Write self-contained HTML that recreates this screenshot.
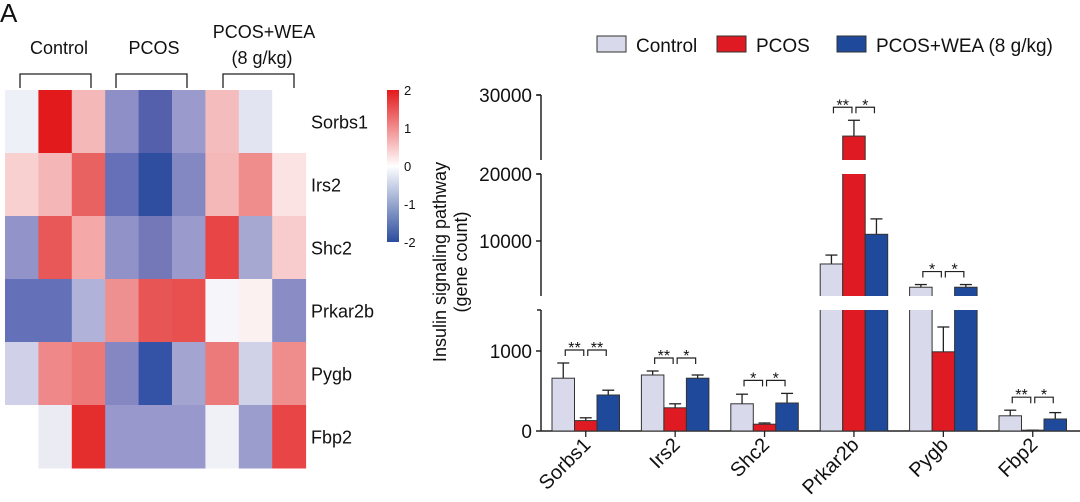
<!DOCTYPE html>
<html><head><meta charset="utf-8">
<style>
body{margin:0;background:#fff;width:1080px;height:502px;overflow:hidden;font-family:"Liberation Sans",Arial,sans-serif}
svg{display:block}
text{font-family:"Liberation Sans",Arial,sans-serif;fill:#111}
</style></head>
<body>
<svg id="fig" width="1080" height="502" viewBox="0 0 1080 502"></svg>
<script>
const genes = ["Sorbs1","Irs2","Shc2","Prkar2b","Pygb","Fbp2"];
const heatColors = [
 ["#eef0f7","#e31a1c","#f4b8b8","#8d8fc6","#5560ad","#9a9bcc","#f4bcbc","#e2e4f2","#ffffff"],
 ["#f8d0d0","#f4b6b6","#e86262","#6670b8","#2f4ea0","#8388c2","#f4b8b8","#ef8c8c","#fce3e3"],
 ["#9293c8","#e85858","#f4a8a8","#9193c8","#7478b8","#9a9bcc","#e84646","#a7a8d2","#f8cccc"],
 ["#6470b8","#6470b8","#b0b2da","#ef9090","#e85555","#e85050","#f6f6fa","#fbf1f1","#8a8cc6"],
 ["#d0d0e8","#ef8888","#ec7878","#8487c2","#3452a6","#a3a4d0","#ec7a7a","#d0d2e8","#ef8c8c"],
 ["#ffffff","#ebebf4","#e42e2e","#9898cc","#9898cc","#9898cc","#f0f0f7","#9b9dcc","#e84646"]
];
const groups = ["Control","PCOS","PCOS+WEA (8 g/kg)"];
const controlVals = [660,700,340,6570,3100,190];
const pcosVals = [130,290,85,24800,990,10];
const weaVals = [450,660,350,11000,3100,150];
const controlErr = [850,750,460,7900,3500,260];
const pcosErr = [165,340,100,26800,1300,10];
const weaErr = [510,700,470,13300,3500,230];
const sigLeft = ["**","**","*","**","*","**"];
const sigRight = ["**","*","*","*","*","*"];
const colorbarTicks = [2,1,0,-1,-2];

const svg = document.getElementById('fig');
const NS = "http://www.w3.org/2000/svg";
function mk(tag, attrs, parent){const e=document.createElementNS(NS,tag);for(const k in attrs)e.setAttribute(k,attrs[k]);(parent||svg).appendChild(e);return e;}
function txt(s, attrs, parent){const e=mk('text',attrs,parent);e.textContent=s;return e;}

let t=txt("A",{x:0,y:22,"font-size":26});



// Heatmap
const hm = mk('g',{});


const hx0=5, hy0=90, cw=33.4, ch=63;
heatColors.forEach((row,r)=>row.forEach((c,ci)=>{
  const rc=mk('rect',{x:hx0+ci*cw,y:hy0+r*ch,width:cw+0.5,height:ch+0.5,fill:c},hm);
  
  
}));
genes.forEach((g,i)=>{
  const e=txt(g,{x:311,y:hy0+i*ch+ch/2+7,"font-size":18});
  
  
});
const brX=[[20,91],[116,187],[223,294]];
brX.forEach((b,i)=>{
  const p=mk('path',{d:`M${b[0]},88 V74 H${b[1]} V88`,fill:"none",stroke:"#222","stroke-width":1.3});
  
  
});
t=txt("Control",{x:59,y:54,"font-size":18,"text-anchor":"middle"});
t=txt("PCOS",{x:154,y:54,"font-size":18,"text-anchor":"middle"});
t=txt("PCOS+WEA",{x:264,y:38,"font-size":18,"text-anchor":"middle"});
t=txt("(8 g/kg)",{x:262,y:64,"font-size":18,"text-anchor":"middle"});

const defs=mk('defs',{});
const lg=mk('linearGradient',{id:"cb",x1:0,y1:0,x2:0,y2:1},defs);
[["0","#e31a1c"],["0.5","#ffffff"],["1","#2b4c9e"]].forEach(s=>mk('stop',{offset:s[0],"stop-color":s[1]},lg));
const cb=mk('rect',{x:387,y:90,width:12,height:152,fill:"url(#cb)"});


colorbarTicks.forEach(v=>{
  const y=90+ (2-v)/4*152;
  const e=txt(String(v),{x:404,y:y+5,"font-size":13});
  
  
});

// Bar chart, broken y-axis
function yScale(v){
  if(v<=1500) return 431 - v*0.08;
  if(v<=21000) return 241 - (v-10000)*0.0067;
  return 95 + (30000-v)*0.0079;
}
const segs=[[310,431],[174,296],[95,160]];
const ax=541;
const axis=mk('g',{});


segs.forEach(s=>{mk('line',{x1:ax,y1:s[0],x2:ax,y2:s[1],stroke:"#222","stroke-width":1.5},axis);
  mk('line',{x1:ax-4,y1:s[0],x2:ax,y2:s[0],stroke:"#222","stroke-width":1.5},axis);});
[[0,"0"],[1000,"1000"],[10000,"10000"],[20000,"20000"],[30000,"30000"]].forEach(tk=>{
  const y=yScale(tk[0]);
  mk('line',{x1:ax-5,y1:y,x2:ax,y2:y,stroke:"#222","stroke-width":1.5},axis);
  const e=txt(tk[1],{x:ax-9,y:y+7,"font-size":19,"text-anchor":"end"},axis);
  
  
});
t=txt("Insulin signaling pathway",{x:0,y:0,"font-size":18,"text-anchor":"middle",transform:"translate(446,262) rotate(-90)"});

t=txt("(gene count)",{x:0,y:0,"font-size":18,"text-anchor":"middle",transform:"translate(467,262) rotate(-90)"});

let xl=mk('line',{x1:ax,y1:431,x2:1080,y2:431,stroke:"#222","stroke-width":1.5});


const series=[[controlVals,controlErr,"#d8d9ea"],[pcosVals,pcosErr,"#df1a22"],[weaVals,weaErr,"#1f4a9c"]];
const gx0=552, gstep=89.4, bw=22.5;
const bars=mk('g',{});

genes.forEach((g,gi)=>{
  const gx=gx0+gi*gstep;
  series.forEach((s,si)=>{
    const x=gx+si*bw, v=s[0][gi], e=s[1][gi];
    const ye=yScale(e), yv=yScale(v);
    mk('line',{x1:x+bw/2,y1:ye,x2:x+bw/2,y2:yv,stroke:"#222","stroke-width":1.3},bars);
    mk('line',{x1:x+bw/2-6,y1:ye,x2:x+bw/2+6,y2:ye,stroke:"#222","stroke-width":1.3},bars);
    const r=mk('rect',{x:x,y:yv,width:bw,height:431-yv,fill:s[2],stroke:"#333","stroke-width":1},bars);
    
    
  });
  const e=txt(g,{x:0,y:0,"font-size":20,"text-anchor":"end",transform:`translate(${gx+bw*1.5+6},${446}) rotate(-45)`});
  
  
  mk('line',{x1:gx+bw*1.5,y1:431,x2:gx+bw*1.5,y2:437,stroke:"#222","stroke-width":1.3});
  const top=Math.min(yScale(controlErr[gi]),yScale(pcosErr[gi]),yScale(weaErr[gi]));
  const by=top-13;
  [[sigLeft[gi],gx+bw*0.5+2,gx+bw*1.5-2],[sigRight[gi],gx+bw*1.5+2,gx+bw*2.5-2]].forEach(sg=>{
    const p=mk('path',{d:`M${sg[1]},${by+6} V${by} H${sg[2]} V${by+6}`,fill:"none",stroke:"#222","stroke-width":1.2});
    
    
    const st=txt(sg[0],{x:(sg[1]+sg[2])/2,y:by+3,"font-size":16,"text-anchor":"middle"});
    
    
  });
});
[[160,174],[296,310]].forEach(gp=>{mk('rect',{x:ax+8,y:gp[0],width:540,height:gp[1]-gp[0],fill:"#fff"});});

const leg=mk('g',{});

const legX=[597,717,837];
groups.forEach((g,i)=>{
  const r=mk('rect',{x:legX[i],y:36,width:29,height:16,fill:series[i][2],stroke:"#333","stroke-width":1},leg);
  
  const e=txt(g,{x:legX[i]+39,y:52,"font-size":19},leg);
  
});
</script>
</body></html>
